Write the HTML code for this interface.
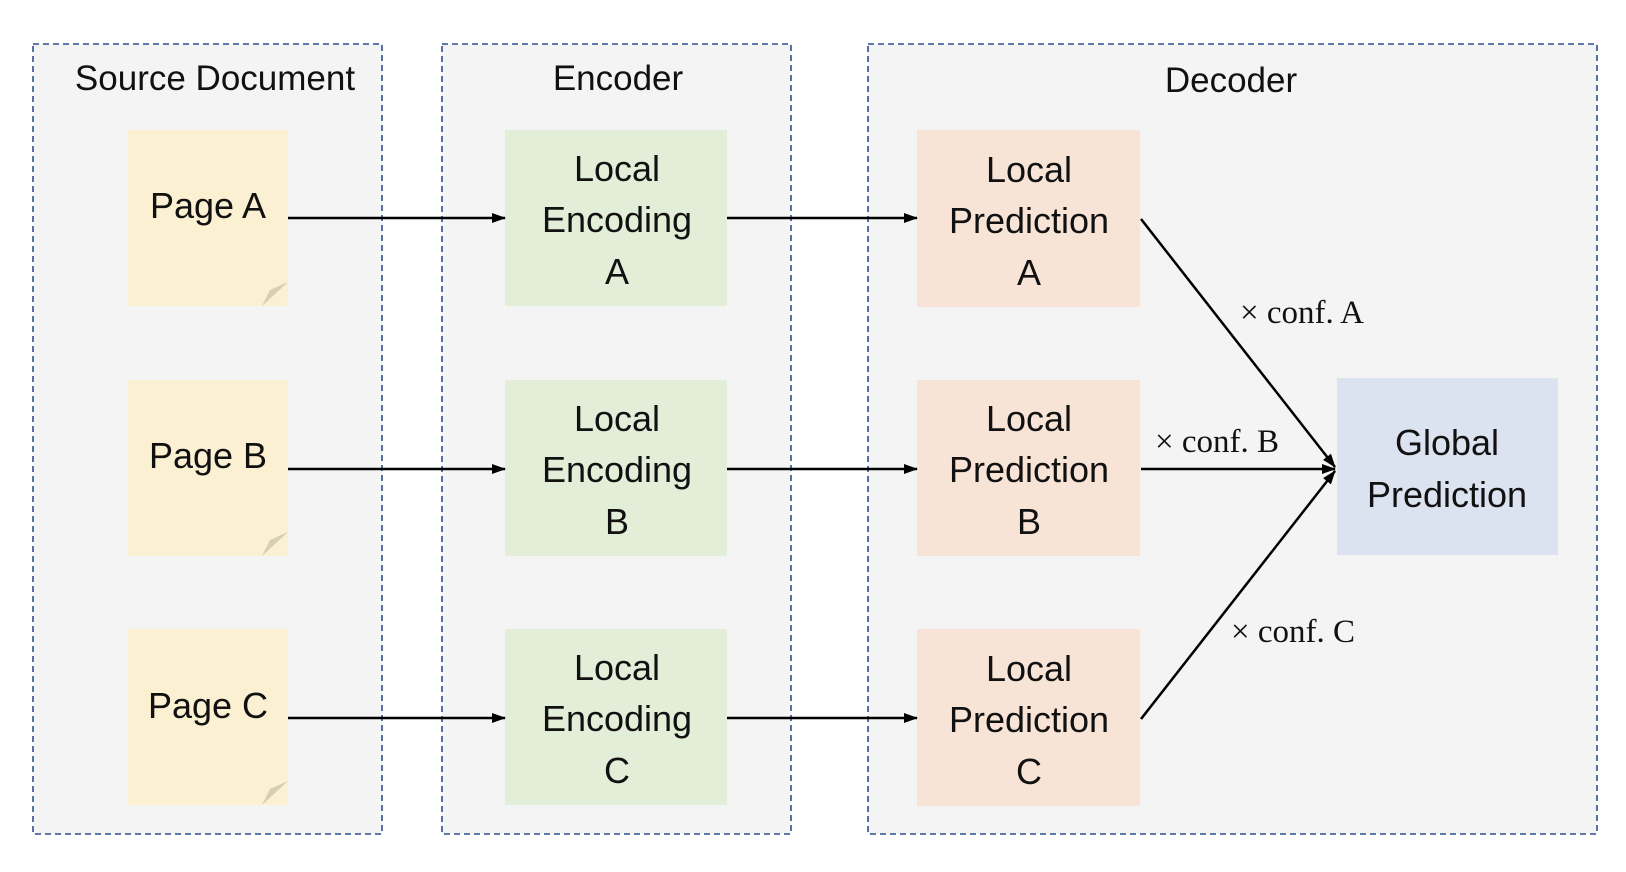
<!DOCTYPE html>
<html><head><meta charset="utf-8"><style>
body{margin:0;background:#fff;}
svg{display:block;font-family:"Liberation Sans",sans-serif;}
</style></head><body>
<svg width="1626" height="872" viewBox="0 0 1626 872" xmlns="http://www.w3.org/2000/svg">
<defs><marker id="ah" markerWidth="14" markerHeight="12" refX="13" refY="6" orient="auto" markerUnits="userSpaceOnUse"><path d="M0,1 L14,6 L0,11 Z" fill="#000"/></marker></defs>
<g fill="#f4f4f4" stroke="#2f4f8f" stroke-width="1.6" stroke-dasharray="6,4">
<rect x="33" y="44" width="349" height="790"/>
<rect x="442" y="44" width="349" height="790"/>
<rect x="868" y="44" width="729" height="790"/>
</g>
<g font-size="35" text-anchor="middle" fill="#111">
<text x="215" y="90">Source Document</text>
<text x="618" y="90">Encoder</text>
<text x="1231" y="92">Decoder</text>
</g>
<g>
<rect x="128" y="130" width="160" height="176" fill="#fbf0d2"/>
<rect x="128" y="380" width="160" height="176" fill="#fbf0d2"/>
<rect x="128" y="629" width="160" height="176" fill="#fbf0d2"/>
<path d="M288,282 L262,306 L270,290 Z" fill="#d6cfb0"/>
<path d="M288,532 L262,556 L270,540 Z" fill="#d6cfb0"/>
<path d="M288,781 L262,805 L270,789 Z" fill="#d6cfb0"/>
<g fill="#e3eed9"><rect x="505" y="130" width="222" height="176"/><rect x="505" y="380" width="222" height="176"/><rect x="505" y="629" width="222" height="176"/></g>
<g fill="#f8e4d7"><rect x="917" y="130" width="223" height="177"/><rect x="917" y="380" width="223" height="176"/><rect x="917" y="629" width="223" height="177"/></g>
<rect x="1337" y="378" width="221" height="177" fill="#dce3f0"/>
</g>
<g font-size="36" text-anchor="middle" fill="#111">
<text x="208" y="218">Page A</text>
<text x="208" y="468">Page B</text>
<text x="208" y="718">Page C</text>
<text x="617" y="181">Local</text><text x="617" y="232">Encoding</text><text x="617" y="284">A</text>
<text x="617" y="431">Local</text><text x="617" y="482">Encoding</text><text x="617" y="534">B</text>
<text x="617" y="680">Local</text><text x="617" y="731">Encoding</text><text x="617" y="783">C</text>
<text x="1029" y="182">Local</text><text x="1029" y="233">Prediction</text><text x="1029" y="285">A</text>
<text x="1029" y="431">Local</text><text x="1029" y="482">Prediction</text><text x="1029" y="534">B</text>
<text x="1029" y="681">Local</text><text x="1029" y="732">Prediction</text><text x="1029" y="784">C</text>
<text x="1447" y="455">Global</text><text x="1447" y="507">Prediction</text>
</g>
<g stroke="#000" stroke-width="2.5" fill="none" marker-end="url(#ah)">
<line x1="288" y1="218" x2="505" y2="218"/>
<line x1="288" y1="469" x2="505" y2="469"/>
<line x1="288" y1="718" x2="505" y2="718"/>
<line x1="727" y1="218" x2="917" y2="218"/>
<line x1="727" y1="469" x2="917" y2="469"/>
<line x1="727" y1="718" x2="917" y2="718"/>
<line x1="1141" y1="219" x2="1335" y2="467"/>
<line x1="1141" y1="469" x2="1335" y2="469"/>
<line x1="1141" y1="719" x2="1335" y2="471"/>
</g>
<g font-family="Liberation Serif,serif" font-size="33" fill="#111">
<text x="1240" y="323">× conf. A</text>
<text x="1155" y="452">× conf. B</text>
<text x="1231" y="642">× conf. C</text>
</g>
</svg>
</body></html>
